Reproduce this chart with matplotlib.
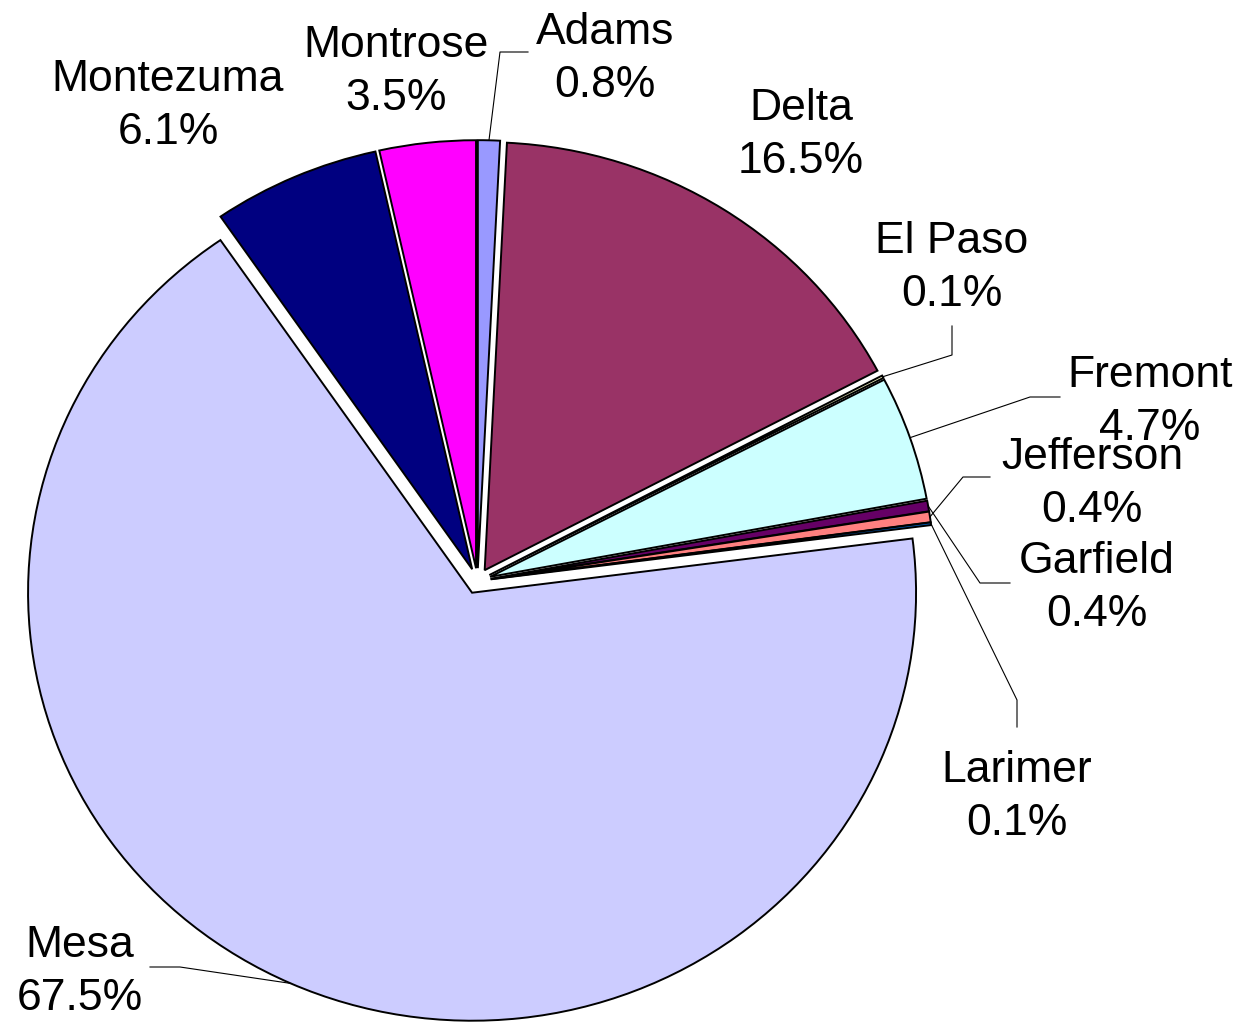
import numpy as np
import matplotlib.pyplot as plt

# data
counties = ['Adams', 'Delta', 'El Paso', 'Fremont', 'Garfield', 'Jefferson',
            'Larimer', 'Mesa', 'Montezuma', 'Montrose']
percent = [0.8, 16.5, 0.1, 4.7, 0.4, 0.4, 0.1, 67.5, 6.1, 3.5]
colors = ['#9999FF', '#993366', '#FFFFCC', '#CCFFFF', '#660066',
          '#FF8080', '#0066CC', '#CCCCFF', '#000080', '#FF00FF']

# layout, in pixels of the 1255x1022 picture
W, H = 1255, 1022
cx, cy = 477.5, 581.0   # pie centre
rx, ry = 444.0, 428.0   # pie is a bit squashed vertically

label_pos = {'Adams': (605, 59), 'Delta': (801, 135), 'El Paso': (952, 268),
             'Fremont': (1150, 402), 'Garfield': (1097, 588),
             'Jefferson': (1092, 484), 'Larimer': (1017, 797),
             'Mesa': (80, 972), 'Montezuma': (168, 106), 'Montrose': (396, 72)}

# elbow + end of the leader lines (start is on the wedge edge)
leaders = {'Adams': [(500, 52), (528, 52)],
           'El Paso': [(952, 355), (952, 326)],
           'Fremont': [(1030, 397), (1060, 397)],
           'Garfield': [(980, 583), (1010, 583)],
           'Jefferson': [(963, 477), (990, 477)],
           'Larimer': [(1017, 700), (1017, 727)],
           'Mesa': [(180, 967), (150, 967)]}


def to_data(px, py):
    return (px - cx) / rx, (cy - py) / ry


fig = plt.figure(figsize=(W / 100, H / 100), dpi=100)
ax = fig.add_axes([0, 0, 1, 1])

wedges, _ = ax.pie(percent,
                   colors=colors,
                   startangle=90,
                   counterclock=False,
                   explode=[0.03] * len(percent),
                   wedgeprops=dict(edgecolor='black', linewidth=1.4))
ax.set_aspect('auto')
ax.set_xlim(-cx / rx, (W - cx) / rx)
ax.set_ylim((cy - H) / ry, cy / ry)
ax.axis('off')

for w, name, p in zip(wedges, counties, percent):
    tx, ty = to_data(*label_pos[name])
    ax.text(tx, ty, '%s\n%.1f%%' % (name, p),
            ha='center', va='center',
            fontsize=32,
            family='Liberation Sans',
            linespacing=1.38)
    if name in leaders:
        ang = np.deg2rad((w.theta1 + w.theta2) / 2)
        x0 = w.center[0] + w.r * np.cos(ang)
        y0 = w.center[1] + w.r * np.sin(ang)
        pts = [(x0, y0)] + [to_data(*q) for q in leaders[name]]
        ax.plot([q[0] for q in pts], [q[1] for q in pts],
                color='black', linewidth=0.8)

fig.savefig('out.png', dpi=100)
